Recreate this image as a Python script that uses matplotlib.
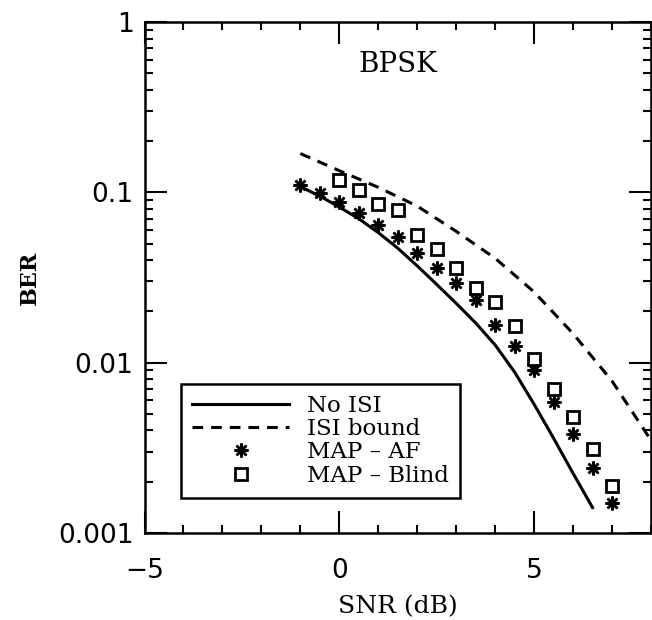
import numpy as np
import matplotlib
matplotlib.use("Agg")
import matplotlib.pyplot as plt
from matplotlib.ticker import FixedLocator, FixedFormatter, LogLocator, MultipleLocator

# BER vs SNR, BPSK, MAP receivers
snr_noisi = [-1, -0.5, 0, 0.5, 1, 1.5, 2, 2.5, 3, 3.5, 4, 4.5, 5, 5.5, 6, 6.5]
ber_noisi = [0.108, 0.095, 0.082, 0.070, 0.058, 0.047, 0.037, 0.0288, 0.0223,
             0.0171, 0.0127, 0.0088, 0.0057, 0.0036, 0.00224, 0.00141]

snr_bound = [-1, 0, 1, 2, 3, 4, 5, 6, 7, 8]
ber_bound = [0.169, 0.134, 0.107, 0.083, 0.059, 0.041, 0.026, 0.0148, 0.0078, 0.0035]

snr_af = [-1, -0.5, 0, 0.5, 1, 1.5, 2, 2.5, 3, 3.5, 4, 4.5, 5, 5.5, 6, 6.5, 7]
ber_af = [0.110, 0.0987, 0.088, 0.076, 0.064, 0.0547, 0.0442, 0.0358, 0.0292,
          0.0233, 0.0166, 0.0126, 0.0091, 0.0059, 0.0038, 0.0024, 0.0015]

snr_blind = [0, 0.5, 1, 1.5, 2, 2.5, 3, 3.5, 4, 4.5, 5, 5.5, 6, 6.5, 7]
ber_blind = [0.118, 0.103, 0.085, 0.079, 0.0565, 0.0465, 0.0358, 0.0273,
             0.0228, 0.0164, 0.0105, 0.0070, 0.0048, 0.0031, 0.0019]

ytick_vals = [0.001, 0.01, 0.1, 1]
ytick_labels = ['0.001', '0.01', '0.1', '1']
xtick_vals = [-5, 0, 5]

fig = plt.figure(figsize=(6.52, 6.2), dpi=100)
ax = fig.add_axes([144.5/652, 87/620, (651-144.5)/652, 511/620])

ax.plot(snr_noisi, ber_noisi, color='black', lw=2.2, label='No ISI')
ax.plot(snr_bound, ber_bound, color='black', lw=2.2, dashes=(3.5, 2.6), label='ISI bound')
ax.plot(snr_af, ber_af, ls='none', marker=(8, 2, 0), ms=10, mew=1.8,
        color='black', label='MAP – AF')
ax.plot(snr_blind, ber_blind, ls='none', marker='s', ms=9, mew=2,
        mfc='white', mec='black', label='MAP – Blind')

ax.set_yscale('log')
ax.set_xlim(-5, 8)
ax.set_ylim(0.001, 1)

ax.yaxis.set_major_locator(FixedLocator(ytick_vals))
ax.yaxis.set_major_formatter(FixedFormatter(ytick_labels))
ax.yaxis.set_minor_locator(LogLocator(base=10, subs=np.arange(2, 10)))
ax.yaxis.set_minor_formatter(FixedFormatter([]))
ax.xaxis.set_major_locator(FixedLocator(xtick_vals))
ax.xaxis.set_minor_locator(MultipleLocator(1))

ax.tick_params(which='both', direction='in', top=True, right=True, width=1.5)
ax.tick_params(which='major', length=16, labelsize=19)
ax.tick_params(axis='x', which='major', pad=18)
ax.tick_params(axis='y', which='major', pad=8)
ax.tick_params(which='minor', length=6)
for lab in ax.get_xticklabels() + ax.get_yticklabels():
    lab.set_fontfamily('DejaVu Sans')
for sp in ax.spines.values():
    sp.set_linewidth(1.8)

ax.set_xlabel('SNR (dB)', family='DejaVu Serif', fontsize=18, labelpad=8)
ax.set_ylabel('BER', family='DejaVu Serif', fontsize=16, fontweight='bold', labelpad=12)
ax.text(1.5, 0.56, 'BPSK', family='DejaVu Serif', fontsize=20, ha='center', va='center')

leg = ax.legend(loc='lower left', bbox_to_anchor=(0.072, 0.0685), borderaxespad=0,
                prop={'family': 'DejaVu Serif', 'size': 16.5}, frameon=True, fancybox=False,
                handlelength=4.2, handletextpad=0.8, labelspacing=0.05, borderpad=0.5,
                edgecolor='black', framealpha=1)
leg.get_frame().set_linewidth(1.8)

fig.savefig('out.png', dpi=100)
